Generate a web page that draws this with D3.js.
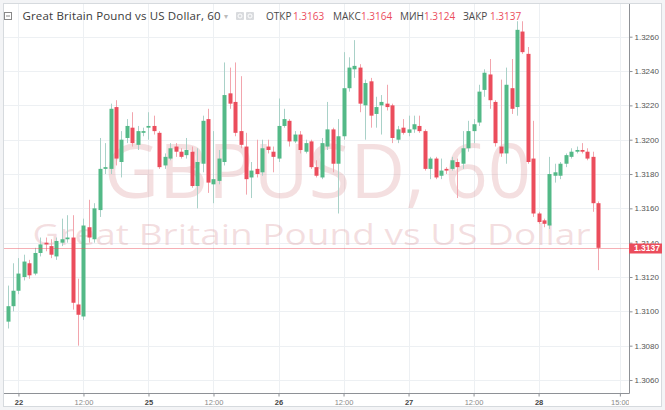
<!DOCTYPE html>
<html>
<head>
<meta charset="utf-8">
<script src="https://cdn.jsdelivr.net/npm/d3@7"></script>
<style>
  html, body { margin: 0; padding: 0; background: #f3f4f6; }
  svg { display: block; }
</style>
</head>
<body>
<div id="chart"></div>
<script>
// GBPUSD, 60 min candles, 21 Jun 22:00 .. 28 Jun 11:00
const opens = [
  1.3094, 1.3103, 1.3112, 1.3120, 1.3128, 1.3122, 1.3134, 1.3140, 1.3138, 1.3132,
  1.3140, 1.3142, 1.3143, 1.3104, 1.3097, 1.3149, 1.3142, 1.3159, 1.3183, 1.3183,
  1.3219, 1.3187, 1.3201, 1.3207, 1.3197, 1.3204, 1.3207, 1.3208, 1.3204, 1.3185,
  1.3189, 1.3196, 1.3193, 1.3191, 1.3193, 1.3173, 1.3186, 1.3212, 1.3174, 1.3176,
  1.3187, 1.3227, 1.3222, 1.3205, 1.3196, 1.3178, 1.3183, 1.3181, 1.3196, 1.3193,
  1.3189, 1.3208, 1.3211, 1.3199, 1.3203, 1.3193, 1.3199, 1.3184, 1.3178, 1.3196,
  1.3206, 1.3186, 1.3202, 1.3230, 1.3241, 1.3242, 1.3220, 1.3234, 1.3215, 1.3220,
  1.3221, 1.3220, 1.3200, 1.3207, 1.3204, 1.3206, 1.3208, 1.3205, 1.3183, 1.3189,
  1.3179, 1.3183, 1.3183, 1.3187, 1.3186, 1.3195, 1.3205, 1.3210, 1.3229, 1.3238,
  1.3222, 1.3196, 1.3192, 1.3230, 1.3219, 1.3263, 1.3250, 1.3189, 1.3157, 1.3153,
  1.3150, 1.3179, 1.3179, 1.3186, 1.3190, 1.3193, 1.3194, 1.3193, 1.3190, 1.3163
];
const highs = [
  1.3115, 1.3128, 1.3131, 1.3133, 1.3130, 1.3137, 1.3143, 1.3143, 1.3142, 1.3143,
  1.3154, 1.3156, 1.3156, 1.3119, 1.3154, 1.3165, 1.3163, 1.3201, 1.3198, 1.3221,
  1.3223, 1.3205, 1.3212, 1.3216, 1.3208, 1.3207, 1.3216, 1.3214, 1.3205, 1.3192,
  1.3198, 1.3198, 1.3195, 1.3201, 1.3196, 1.3195, 1.3214, 1.3218, 1.3205, 1.3194,
  1.3245, 1.3242, 1.3245, 1.3237, 1.3204, 1.3187, 1.3200, 1.3200, 1.3200, 1.3196,
  1.3224, 1.3218, 1.3212, 1.3205, 1.3205, 1.3200, 1.3200, 1.3188, 1.3201, 1.3222,
  1.3207, 1.3212, 1.3251, 1.3248, 1.3258, 1.3244, 1.3235, 1.3236, 1.3225, 1.3226,
  1.3232, 1.3221, 1.3208, 1.3212, 1.3214, 1.3214, 1.3214, 1.3206, 1.3190, 1.3190,
  1.3189, 1.3184, 1.3190, 1.3189, 1.3205, 1.3211, 1.3212, 1.3232, 1.3241, 1.3247,
  1.3223, 1.3235, 1.3242, 1.3247, 1.3269, 1.3269, 1.3254, 1.3211, 1.3158, 1.3154,
  1.3190, 1.3186, 1.3187, 1.3192, 1.3195, 1.3196, 1.3198, 1.3195, 1.3193, 1.3164
];
const lows = [
  1.3090, 1.3100, 1.3110, 1.3118, 1.3119, 1.3121, 1.3132, 1.3135, 1.3131, 1.3130,
  1.3138, 1.3140, 1.3101, 1.3080, 1.3095, 1.3140, 1.3140, 1.3155, 1.3180, 1.3180,
  1.3185, 1.3178, 1.3198, 1.3196, 1.3194, 1.3202, 1.3200, 1.3203, 1.3183, 1.3183,
  1.3188, 1.3190, 1.3189, 1.3189, 1.3172, 1.3160, 1.3181, 1.3169, 1.3163, 1.3174,
  1.3185, 1.3218, 1.3202, 1.3195, 1.3168, 1.3166, 1.3178, 1.3179, 1.3192, 1.3181,
  1.3187, 1.3207, 1.3196, 1.3198, 1.3192, 1.3192, 1.3183, 1.3178, 1.3177, 1.3194,
  1.3181, 1.3157, 1.3200, 1.3228, 1.3236, 1.3216, 1.3200, 1.3207, 1.3207, 1.3203,
  1.3217, 1.3198, 1.3198, 1.3203, 1.3202, 1.3204, 1.3204, 1.3182, 1.3177, 1.3177,
  1.3177, 1.3180, 1.3182, 1.3166, 1.3183, 1.3193, 1.3198, 1.3208, 1.3225, 1.3218,
  1.3196, 1.3190, 1.3186, 1.3215, 1.3214, 1.3250, 1.3186, 1.3155, 1.3151, 1.3149,
  1.3148, 1.3175, 1.3177, 1.3184, 1.3189, 1.3192, 1.3192, 1.3188, 1.3158, 1.3124
];
const closes = [
  1.3103, 1.3112, 1.3122, 1.3129, 1.3121, 1.3134, 1.3139, 1.3139, 1.3133, 1.3141,
  1.3142, 1.3143, 1.3105, 1.3098, 1.3150, 1.3143, 1.3160, 1.3183, 1.3184, 1.3218,
  1.3189, 1.3200, 1.3208, 1.3198, 1.3205, 1.3205, 1.3208, 1.3205, 1.3184, 1.3190,
  1.3195, 1.3193, 1.3190, 1.3194, 1.3173, 1.3187, 1.3211, 1.3175, 1.3177, 1.3189,
  1.3226, 1.3221, 1.3204, 1.3197, 1.3177, 1.3182, 1.3180, 1.3195, 1.3194, 1.3190,
  1.3208, 1.3212, 1.3199, 1.3203, 1.3194, 1.3198, 1.3184, 1.3179, 1.3198, 1.3206,
  1.3186, 1.3202, 1.3230, 1.3242, 1.3243, 1.3221, 1.3233, 1.3214, 1.3219, 1.3222,
  1.3219, 1.3201, 1.3206, 1.3204, 1.3206, 1.3209, 1.3205, 1.3183, 1.3189, 1.3178,
  1.3182, 1.3182, 1.3188, 1.3184, 1.3195, 1.3205, 1.3209, 1.3228, 1.3239, 1.3223,
  1.3198, 1.3192, 1.3232, 1.3218, 1.3264, 1.3251, 1.3187, 1.3157, 1.3152, 1.3151,
  1.3180, 1.3181, 1.3186, 1.3191, 1.3193, 1.3194, 1.3193, 1.3189, 1.3163, 1.3137
];

const priceTicks = [1.3060, 1.3080, 1.3100, 1.3120, 1.3140, 1.3160, 1.3180, 1.3200, 1.3220, 1.3240, 1.3260];
// time ticks sit on candle indices (15:00 lies past the last candle)
const timeTickIndex = [2, 14, 26, 38, 50, 62, 74, 86, 98, 113];
const timeTickLabels = ["22", "12:00", "25", "12:00", "26", "12:00", "27", "12:00", "28", "15:00"];

const symbolTitle = "Great Britain Pound vs US Dollar, 60";
const watermarkTicker = "GBPUSD, 60";
const watermarkName = "Great Britain Pound vs US Dollar";
const ohlcNames = ["ОТКР", "МАКС", "МИН", "ЗАКР"];

const UP = "#53b987";
const DOWN = "#eb4d5c";
const UP_WICK = "#a9d1c8";
const DOWN_WICK = "#f2a5ad";
const GRID = "#edf0f3";
const AXIS = "#8e9196";

function makeScales(plot) {
    const x = d3.scaleLinear()
        .domain([0, opens.length - 1])
        .range([7.6, 598.2]);
    const y = d3.scaleLinear()
        .domain([1.3060, 1.3260])
        .range([380, 36.7]);
    return {x, y};
}

function drawFrame(svg, W, H, plot) {
    svg.append("rect")
        .attr("x", 3.5).attr("y", 3.5)
        .attr("width", W - 7).attr("height", H - 7)
        .attr("fill", "#fff")
        .attr("stroke", "#d6dade");
}

function drawGrid(svg, plot, s) {
    const g = svg.append("g");
    g.selectAll("line.h")
        .data(priceTicks)
        .enter().append("line")
        .attr("x1", plot.left).attr("x2", plot.right)
        .attr("y1", d => Math.round(s.y(d)) + 0.5)
        .attr("y2", d => Math.round(s.y(d)) + 0.5)
        .attr("stroke", GRID);
    g.selectAll("line.v")
        .data(timeTickIndex)
        .enter().append("line")
        .attr("x1", d => Math.round(s.x(d)) + 0.5)
        .attr("x2", d => Math.round(s.x(d)) + 0.5)
        .attr("y1", plot.top).attr("y2", plot.bottom)
        .attr("stroke", GRID);
}

function drawWatermark(svg, plot) {
    const cx = (plot.left + plot.right) / 2;
    svg.append("text")
        .attr("x", cx + 1).attr("y", 198)
        .attr("text-anchor", "middle")
        .attr("font-family", "'Open Sans', sans-serif")
        .attr("font-size", 75)
        .attr("textLength", 427)
        .attr("lengthAdjust", "spacingAndGlyphs")
        .attr("fill", "rgba(215,140,145,0.28)")
        .text(watermarkTicker);
    svg.append("text")
        .attr("x", cx - 5).attr("y", 245)
        .attr("text-anchor", "middle")
        .attr("font-family", "'Open Sans', sans-serif")
        .attr("font-size", 29)
        .attr("textLength", 558)
        .attr("lengthAdjust", "spacingAndGlyphs")
        .attr("fill", "rgba(215,140,145,0.28)")
        .text(watermarkName);
}

function drawCandles(svg, s) {
    const bodyW = 4;
    const data = d3.range(opens.length);
    const isUp = i => closes[i] >= opens[i];
    const g = svg.append("g").attr("clip-path", "url(#plotClip)");
    g.selectAll("line.wick")
        .data(data)
        .enter().append("line")
        .attr("x1", i => Math.round(s.x(i)) + 0.5)
        .attr("x2", i => Math.round(s.x(i)) + 0.5)
        .attr("y1", i => s.y(highs[i]))
        .attr("y2", i => s.y(lows[i]))
        .attr("stroke", i => isUp(i) ? UP_WICK : DOWN_WICK)
        .attr("stroke-width", 1);
    g.selectAll("rect.body")
        .data(data)
        .enter().append("rect")
        .attr("x", i => Math.round(s.x(i)) + 0.5 - bodyW / 2)
        .attr("width", bodyW)
        .attr("y", i => s.y(Math.max(opens[i], closes[i])))
        .attr("height", i => Math.max(1, Math.abs(s.y(opens[i]) - s.y(closes[i]))))
        .attr("fill", i => isUp(i) ? UP : DOWN);
}

function drawLastPrice(svg, plot, s) {
    const last = closes[closes.length - 1];
    const yy = Math.round(s.y(last)) + 0.5;
    svg.append("line")
        .attr("x1", plot.left).attr("x2", plot.right)
        .attr("y1", yy).attr("y2", yy)
        .attr("stroke", DOWN)
        .attr("stroke-opacity", 0.45);
    svg.append("rect")
        .attr("x", plot.right).attr("y", yy - 5)
        .attr("width", 33).attr("height", 10)
        .attr("fill", DOWN);
    svg.append("text")
        .attr("x", plot.right + 5).attr("y", yy)
        .attr("dy", "0.35em")
        .attr("font-family", "'Liberation Sans', Arial, sans-serif")
        .attr("font-size", 8.5)
        .attr("font-weight", "bold")
        .attr("fill", "#fff")
        .text(d3.format(".4f")(last));
}

function drawAxes(svg, plot, s) {
    const priceAxis = d3.axisRight(s.y)
        .tickValues(priceTicks)
        .tickFormat(d3.format(".4f"))
        .tickSize(3)
        .tickSizeOuter(0)
        .tickPadding(2);
    const pa = svg.append("g")
        .attr("transform", `translate(${plot.right + 0.5},0)`)
        .call(priceAxis);
    pa.select(".domain").remove();
    pa.selectAll(".tick line").attr("stroke", AXIS);
    pa.selectAll(".tick text")
        .attr("font-family", "'Liberation Sans', Arial, sans-serif")
        .attr("font-size", 8)
        .attr("fill", "#555");

    const timeAxis = d3.axisBottom(s.x)
        .tickValues(timeTickIndex)
        .tickFormat((d, i) => timeTickLabels[i])
        .tickSize(3)
        .tickSizeOuter(0)
        .tickPadding(3);
    const ta = svg.append("g")
        .attr("clip-path", "url(#timeClip)")
        .append("g")
        .attr("transform", `translate(0,${plot.bottom + 0.5})`)
        .call(timeAxis);
    ta.select(".domain").remove();
    ta.selectAll(".tick line").attr("stroke", AXIS);
    ta.selectAll(".tick text")
        .attr("font-family", "'Liberation Sans', Arial, sans-serif")
        .attr("font-size", 7.5)
        .attr("font-weight", (d, i) => timeTickLabels[i].includes(":") ? "normal" : "bold")
        .attr("fill", (d, i) => timeTickLabels[i].includes(":") ? "#8a8a8a" : "#444");

    // axis lines
    svg.append("line")
        .attr("x1", plot.right + 0.5).attr("x2", plot.right + 0.5)
        .attr("y1", plot.top).attr("y2", plot.bottom + 0.5)
        .attr("stroke", AXIS);
    svg.append("line")
        .attr("x1", plot.left).attr("x2", plot.right + 0.5)
        .attr("y1", plot.bottom + 0.5).attr("y2", plot.bottom + 0.5)
        .attr("stroke", AXIS);
}

function drawHeader(svg) {
    const font = "'Open Sans', sans-serif";
    const n = opens.length - 1;
    const ohlc = [opens[n], highs[n], lows[n], closes[n]];
    svg.append("rect")
        .attr("x", 4.5).attr("y", 12.5).attr("width", 7).attr("height", 7)
        .attr("fill", "none").attr("stroke", "#888");
    svg.append("line")
        .attr("x1", 6).attr("x2", 10).attr("y1", 16).attr("y2", 16)
        .attr("stroke", "#888");
    svg.append("text")
        .attr("x", 22.5).attr("y", 20)
        .attr("font-family", font)
        .attr("font-size", 11.5)
        .attr("textLength", 198)
        .attr("lengthAdjust", "spacing")
        .attr("fill", "#3b3b3b")
        .text(symbolTitle);
    svg.append("text")
        .attr("x", 224).attr("y", 19)
        .attr("font-family", font)
        .attr("font-size", 8)
        .attr("fill", "#bbb")
        .text("▾");
    [236, 246].forEach(ix => {
        svg.append("rect")
            .attr("x", ix).attr("y", 12).attr("width", 8).attr("height", 8)
            .attr("rx", 1).attr("fill", "#d9dbde");
        svg.append("circle")
            .attr("cx", ix + 4).attr("cy", 16).attr("r", 2)
            .attr("fill", "none").attr("stroke", "#fff");
    });
    const nameX = [266, 333, 400, 463];
    const valX = [293, 361, 424, 490];
    ohlcNames.forEach((name, i) => {
        svg.append("text")
            .attr("x", nameX[i]).attr("y", 20)
            .attr("font-family", font)
            .attr("font-size", 10)
            .attr("fill", "#4a4a4a")
            .text(name);
        svg.append("text")
            .attr("x", valX[i]).attr("y", 20)
            .attr("font-family", font)
            .attr("font-size", 10)
            .attr("fill", DOWN)
            .text(d3.format(".4f")(ohlc[i]));
    });
}

function draw(container) {
    const W = 665, H = 410;
    const plot = {left: 4, right: 629, top: 4, bottom: 393};
    const s = makeScales(plot);
    const svg = d3.select(container).append("svg")
        .attr("width", W).attr("height", H);
    const defs = svg.append("defs");
    defs.append("clipPath").attr("id", "plotClip")
        .append("rect")
        .attr("x", plot.left).attr("y", plot.top)
        .attr("width", plot.right - plot.left).attr("height", plot.bottom - plot.top);
    defs.append("clipPath").attr("id", "timeClip")
        .append("rect")
        .attr("x", plot.left).attr("y", plot.bottom)
        .attr("width", plot.right - plot.left).attr("height", H - plot.bottom - 4);

    drawFrame(svg, W, H, plot);
    drawGrid(svg, plot, s);
    drawWatermark(svg, plot);
    drawCandles(svg, s);
    drawAxes(svg, plot, s);
    drawLastPrice(svg, plot, s);
    drawHeader(svg);
}

draw(document.getElementById("chart"));
</script>
</body>
</html>
